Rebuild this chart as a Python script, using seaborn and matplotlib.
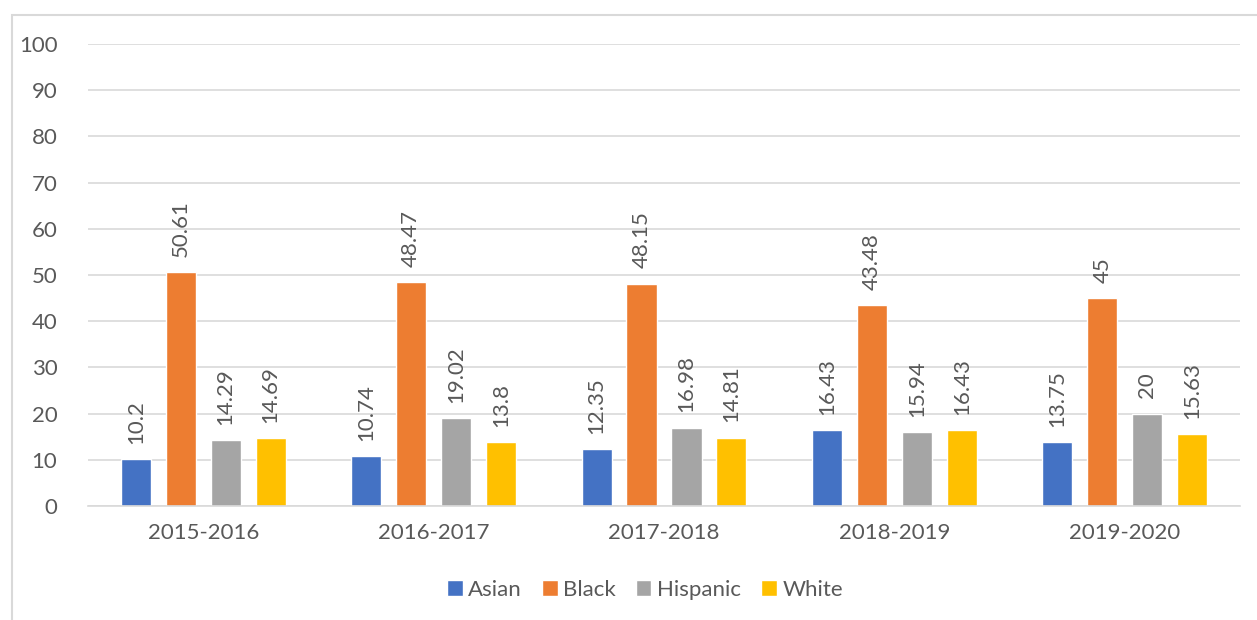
import numpy as np
import pandas as pd
import matplotlib
matplotlib.use('Agg')
import matplotlib.pyplot as plt
import seaborn as sns
from matplotlib.patches import Rectangle

# data
years = ['2015-2016', '2016-2017', '2017-2018', '2018-2019', '2019-2020']
asian = [10.2, 10.74, 12.35, 16.43, 13.75]
black = [50.61, 48.47, 48.15, 43.48, 45]
hispanic = [14.29, 19.02, 16.98, 15.94, 20]
white = [14.69, 13.8, 14.81, 16.43, 15.63]
groups = ['Asian', 'Black', 'Hispanic', 'White']
colors = ['#4472C4', '#ED7D31', '#A5A5A5', '#FFC000']

df = pd.DataFrame({'year': years, 'Asian': asian, 'Black': black,
                   'Hispanic': hispanic, 'White': white})
df = df.melt(id_vars='year', var_name='group', value_name='value')

sns.set_style('white')
plt.rcParams['font.family'] = ['Lato', 'DejaVu Sans']
txt = '#595959'
grid_c = '#d9d9d9'
fs = 16

fig = plt.figure(figsize=(12.57, 6.2), dpi=100)
ax = fig.add_axes([0.070, 0.1839, 0.9165, 0.745])

sns.barplot(data=df, x='year', y='value', hue='group', hue_order=groups,
            order=years, palette=colors, width=0.78, gap=0.33,
            saturation=1, ax=ax, legend=True)

for cont in ax.containers:
    vals = [b.get_height() for b in cont]
    ax.bar_label(cont, labels=[f'{v:g}' for v in vals], rotation=90,
                 padding=11, color=txt, fontsize=fs)

ax.set_ylim(0, 100)
ax.set_xlim(-0.5, 4.5)
ax.set_yticks(range(0, 101, 10))
ax.yaxis.grid(True, color=grid_c, lw=1.2)
ax.set_axisbelow(True)
for s in ['top', 'right', 'left']:
    ax.spines[s].set_visible(False)
ax.spines['bottom'].set_color(grid_c)
ax.spines['bottom'].set_linewidth(1.2)
ax.tick_params(axis='both', length=0, labelsize=fs, labelcolor=txt)
ax.tick_params(axis='y', pad=22)
ax.tick_params(axis='x', pad=12)
ax.set_xlabel('')
ax.set_ylabel('')

ax.legend(loc='center', bbox_to_anchor=(0.4835, -0.182), ncol=4,
          frameon=False, handlelength=0.7, handleheight=0.7,
          handletextpad=0.25, columnspacing=0.9, fontsize=fs,
          labelcolor=txt)

# outer chart border
fig.patches.append(Rectangle((12 / 1257, -0.1), 2, 1.1 - 15 / 620,
                             transform=fig.transFigure, fill=False,
                             edgecolor=grid_c, lw=1.5))

fig.savefig('out.png', dpi=100)
